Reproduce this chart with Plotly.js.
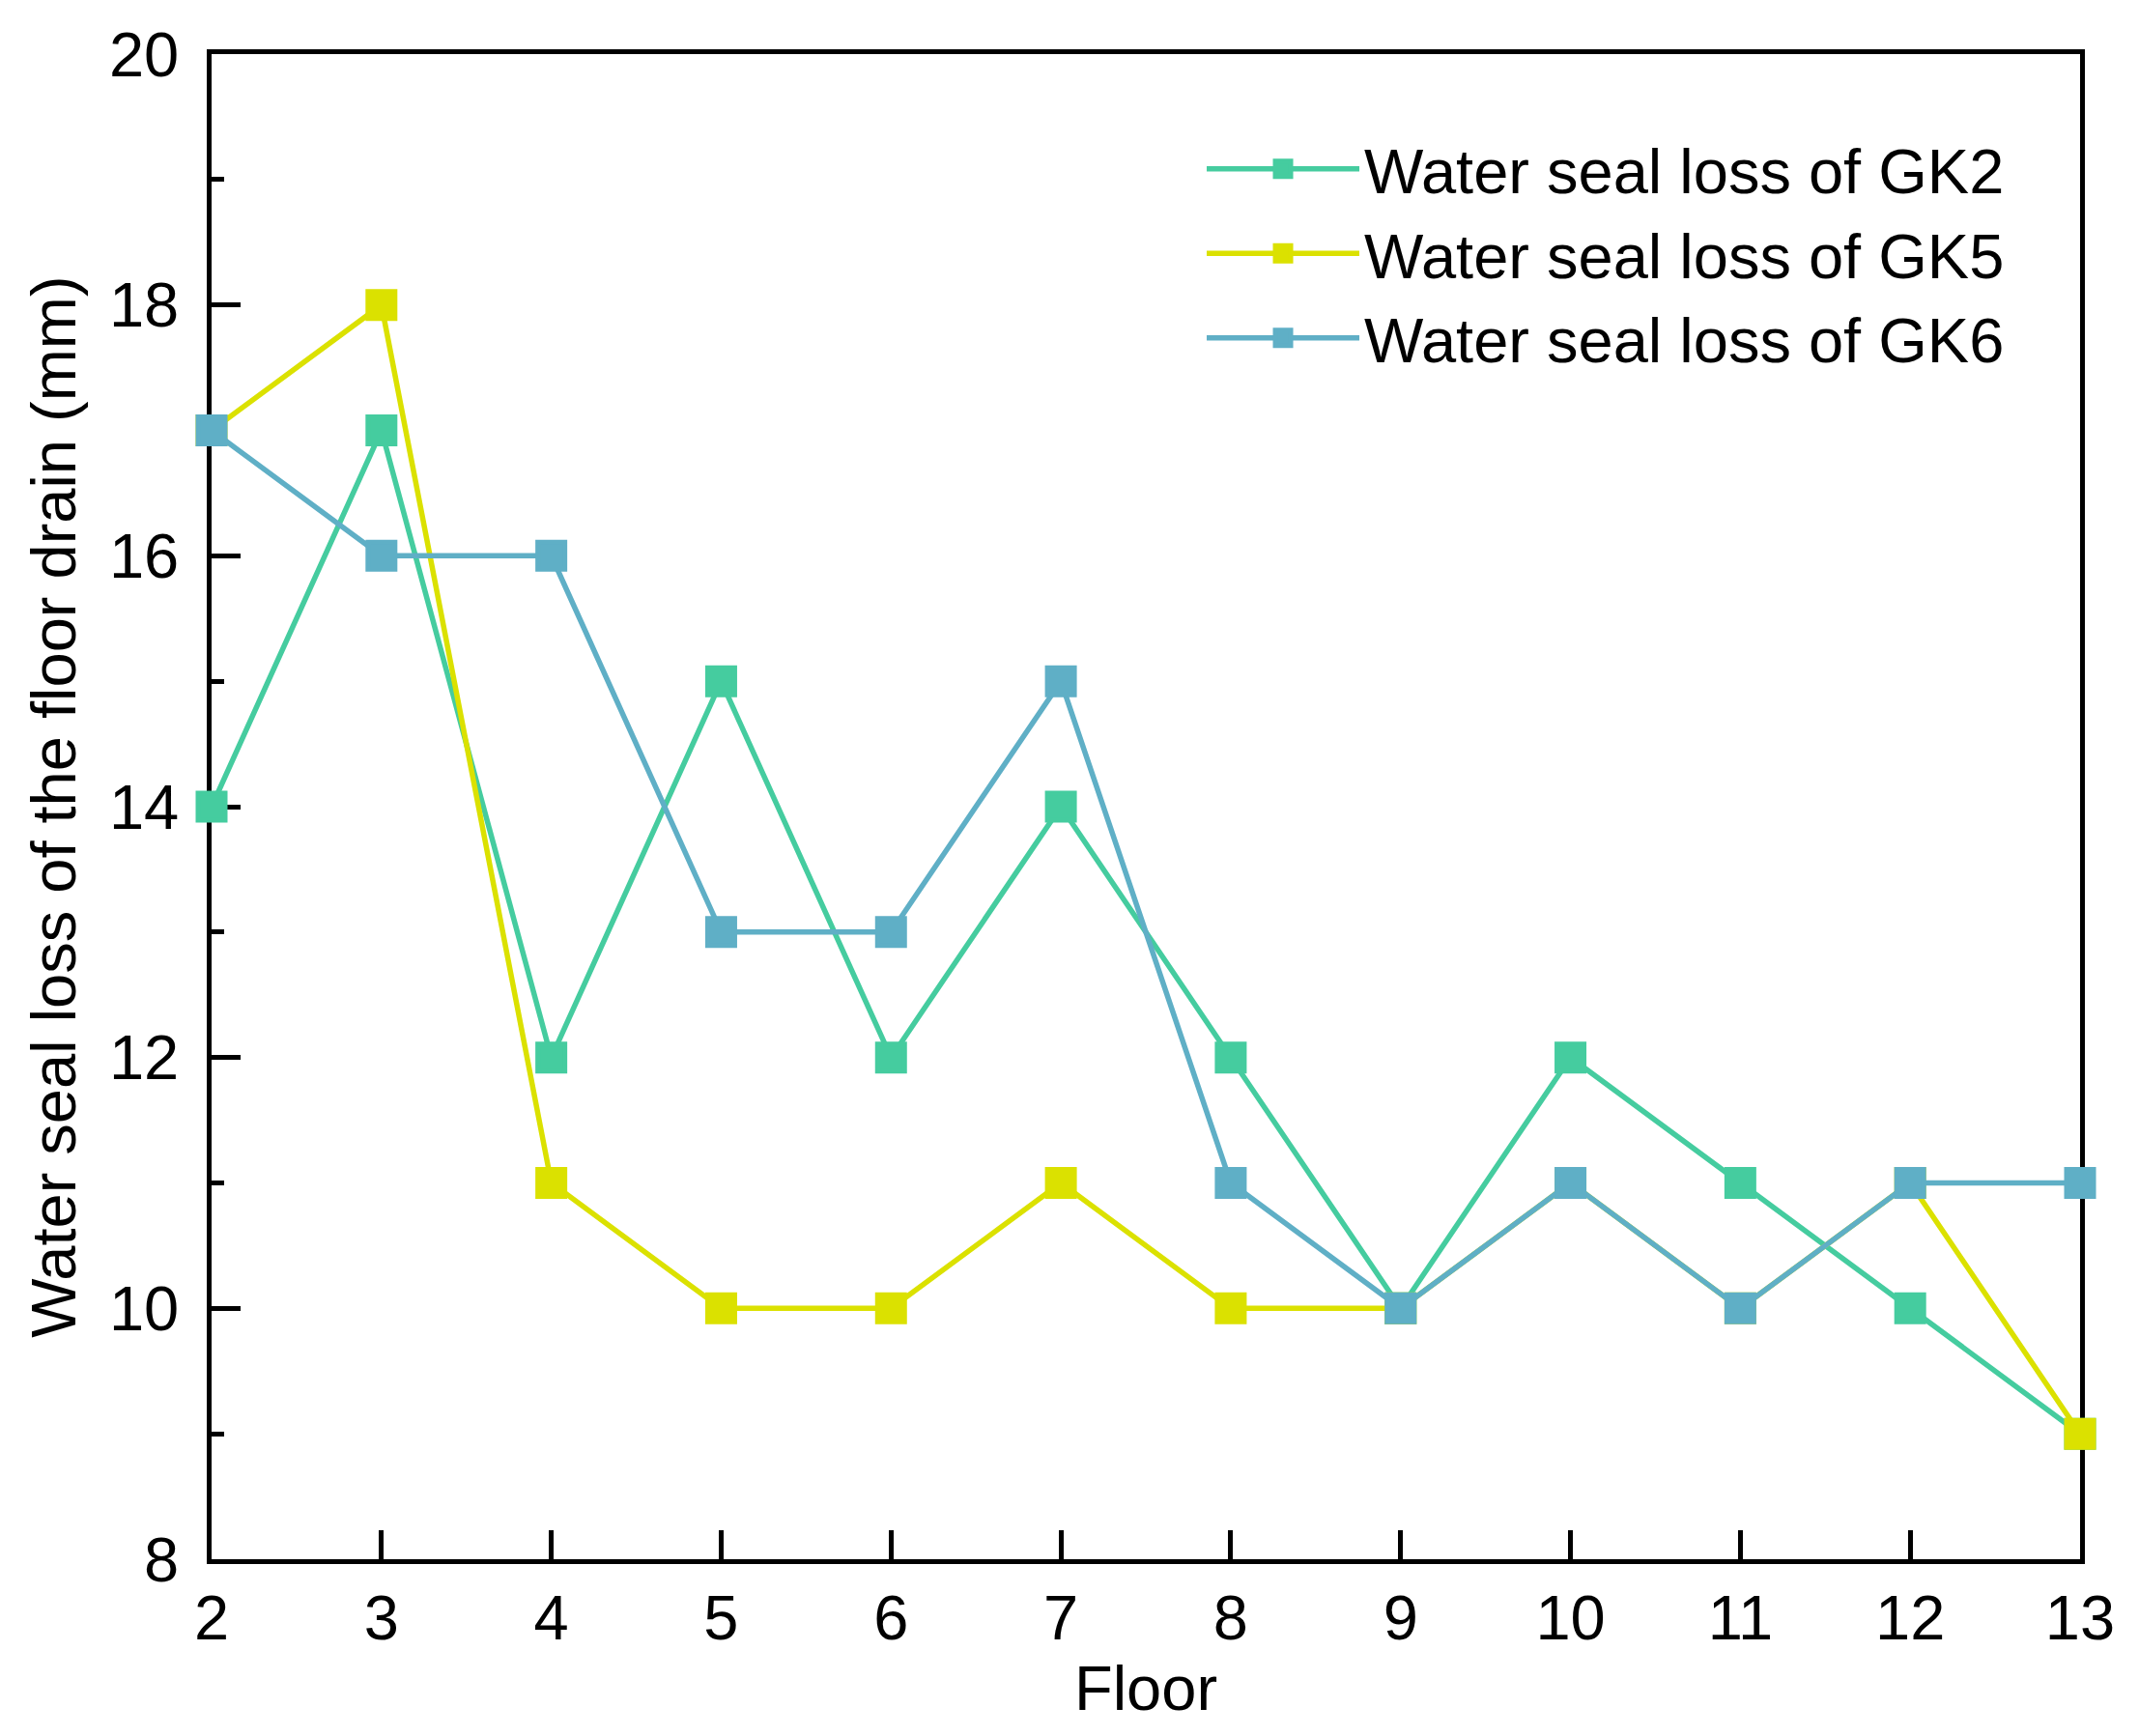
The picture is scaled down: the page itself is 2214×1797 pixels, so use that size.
<!DOCTYPE html>
<html lang="en">
<head>
    <meta charset="UTF-8">
    <title>Water seal loss</title>
    <script src="https://cdn.plot.ly/plotly-3.0.1.min.js"></script>
    <style>
        body { margin: 0; background: white; }
    </style>
</head>

<body>

<div id="plot"></div>

<script>

    const floors = [2, 3, 4, 5, 6, 7, 8, 9, 10, 11, 12, 13]

    const GK2_loss = [14, 17, 12, 15, 12, 14, 12, 10, 12, 11, 10, 9]
    const GK5_loss = [17, 18, 11, 10, 10, 11, 10, 10, 11, 10, 11, 9]
    const GK6_loss = [17, 16, 16, 13, 13, 15, 11, 10, 11, 10, 11, 11]

    const seriesNames = ['Water seal loss of GK2', 'Water seal loss of GK5', 'Water seal loss of GK6']
    const colors = ['#45CC9F', '#DBE100', '#5FAFC6']

    function makeTrace(y, i) {
        return {
            x: floors,
            y: y,
            name: seriesNames[i],
            type: 'scatter',
            mode: 'lines+markers',
            cliponaxis: false,
            line: {color: colors[i], width: 5.5},
            // size + outline gives ~33px squares
            marker: {symbol: 'square', size: 28, color: colors[i], line: {color: colors[i], width: 5}}
        }
    }

    const data = [GK2_loss, GK5_loss, GK6_loss].map(makeTrace)

    const font = {family: 'Liberation Sans, Arial, sans-serif', size: 65, color: 'black'}

    const layout = {
        width: 2214,
        height: 1797,
        margin: {l: 219, r: 61, t: 56, b: 183},
        paper_bgcolor: 'white',
        plot_bgcolor: 'white',
        font: font,
        showlegend: true,
        legend: {
            x: 0.53,
            y: 0.955,
            xanchor: 'left',
            yanchor: 'top',
            bgcolor: 'rgba(0,0,0,0)',
            font: font,
            itemwidth: 158
        },
        xaxis: {
            range: [2, 13],
            tickmode: 'linear',
            tick0: 2,
            dtick: 1,
            ticks: 'inside',
            ticklen: 30,
            tickwidth: 4.5,
            tickcolor: 'black',
            showline: true,
            linewidth: 4.5,
            linecolor: 'black',
            mirror: true,
            showgrid: false,
            zeroline: false,
            layer: 'below traces',
            automargin: true,
            ticklabelstandoff: 0,
            tickfont: font,
            title: {text: 'Floor', font: font, standoff: 4}
        },
        yaxis: {
            range: [8, 20],
            tickmode: 'linear',
            tick0: 8,
            dtick: 2,
            ticks: 'inside',
            ticklen: 30,
            tickwidth: 4.5,
            tickcolor: 'black',
            minor: {dtick: 1, ticks: 'inside', ticklen: 13, tickwidth: 4.5, tickcolor: 'black', showgrid: false},
            showline: true,
            linewidth: 4.5,
            linecolor: 'black',
            mirror: true,
            showgrid: false,
            zeroline: false,
            layer: 'below traces',
            automargin: true,
            ticklabelstandoff: 16,
            tickfont: font,
            title: {text: 'Water seal loss of the floor drain (mm)', font: font, standoff: 15}
        }
    }

    Plotly.newPlot('plot', data, layout, {displayModeBar: false})

</script>
</body>
</html>
